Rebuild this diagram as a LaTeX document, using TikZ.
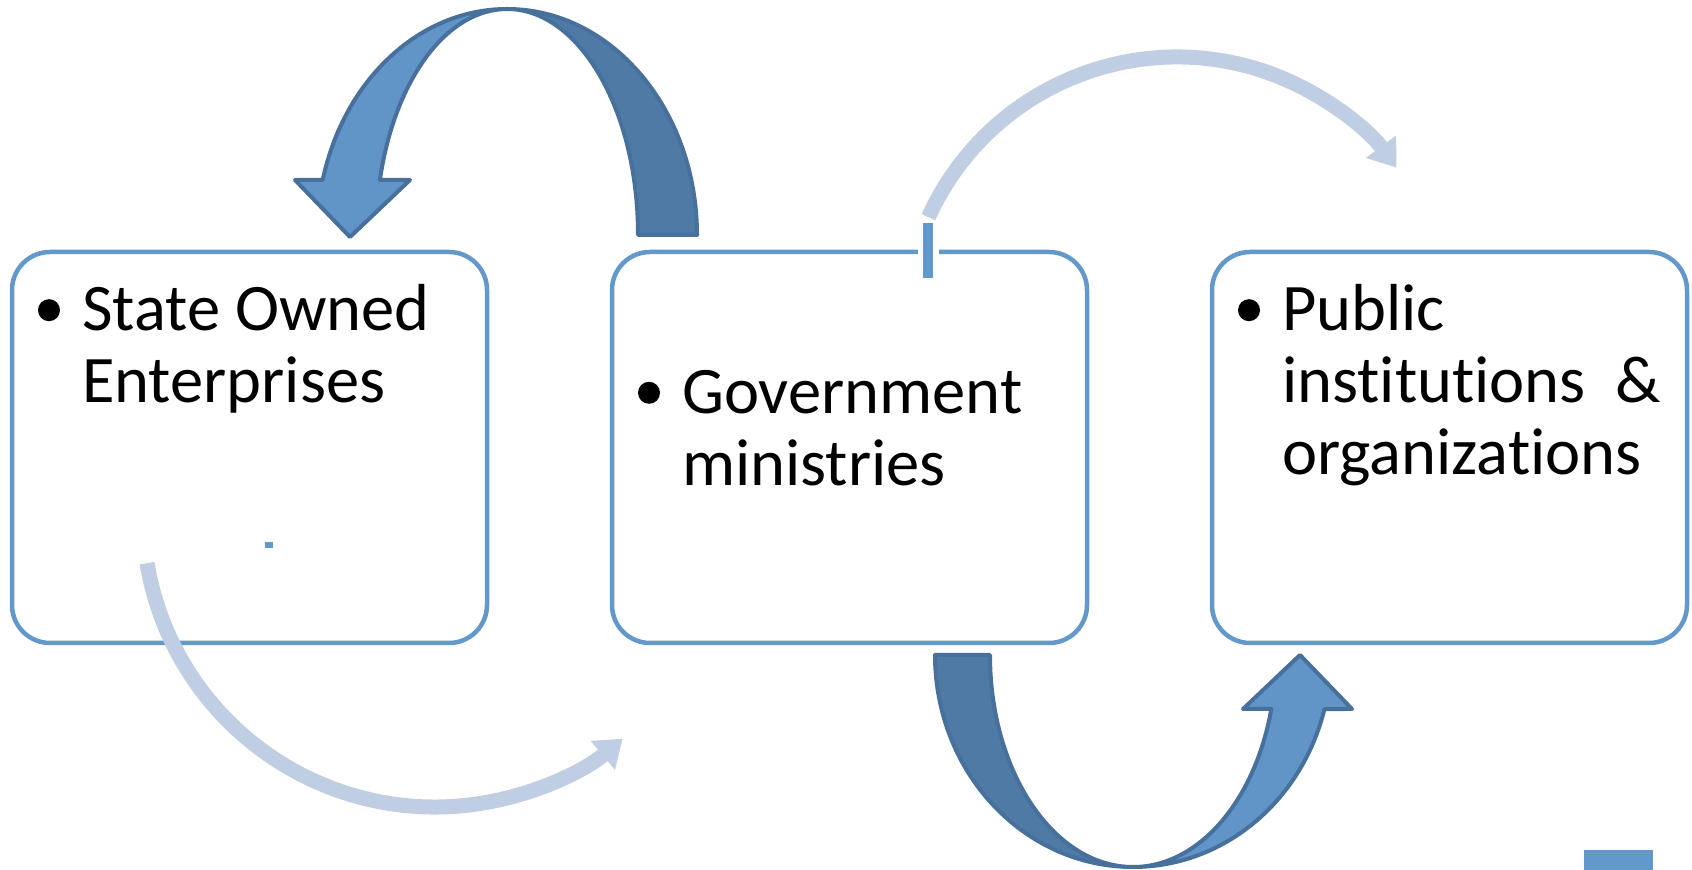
\documentclass[tikz,border=0pt]{standalone}
\usepackage{fontspec}
\setmainfont{Carlito}[Ligatures=NoCommon]
\usetikzlibrary{positioning,arrows.meta}
\definecolor{boxblue}{RGB}{99,152,203}
\definecolor{arrowlight}{RGB}{97,149,200}
\definecolor{arrowdark}{RGB}{79,122,166}
\definecolor{arrowedge}{RGB}{72,112,157}
\definecolor{paleblue}{RGB}{191,206,227}
\pgfmathsetmacro{\boxwidth}{475}
\pgfmathsetmacro{\boxheight}{391}
\pgfmathsetmacro{\boxgap}{125}
\pgfmathsetmacro{\textindent}{70}
\tikzset{
  box/.style={draw=boxblue, fill=white, line width=4.5pt, rounded corners=38pt,
    minimum width=\boxwidth pt, minimum height=\boxheight pt,
    inner sep=0pt, outer sep=0pt},
  itemtext/.style={font=\fontsize{66.5}{72}\selectfont, align=flush left,
    text width=440pt, inner sep=0pt, anchor=base west},
  bulletdot/.style={fill=black},
  bigarrow/.style={draw=arrowedge, line width=4pt, line join=round},
  palearrow/.style={draw=paleblue, line width=15pt,
    -{Triangle[width=36pt,length=26pt]}},
}

\begin{document}
\begin{tikzpicture}[x=1pt, y=1pt]
    \useasboundingbox (0,0) rectangle (1692,870);
    % define boxes
    \node[box] (soe) at (249.5,422.5) {};
    \node[box, right=\boxgap pt of soe] (gov) {};
    \node[box, right=\boxgap pt of gov] (pub) {};
    % centres of the curved arrows
    \coordinate (top_c) at (507,635);
    \coordinate (bot_c) at (1133,215);
    \coordinate (sweep_top) at (1177,540);
    \coordinate (sweep_bot) at (435,355);
    % draw big arrows
    % upper arrow, gov -> soe
    \draw[bigarrow, fill=arrowdark] ([shift={(0:190pt and 226pt)}]top_c)
        arc[start angle=0, end angle=90, x radius=190pt, y radius=226pt]
        arc[start angle=90, end angle=0, x radius=131pt, y radius=226pt] -- cycle;
    \draw[bigarrow, fill=arrowlight] ([shift={(90:190pt and 226pt)}]top_c)
        arc[start angle=90, end angle=165.9, x radius=190pt, y radius=226pt]
        -- (295,690) -- (350,633) -- (410,690) -- (379.9,690)
        arc[start angle=165.9, end angle=90, x radius=131pt, y radius=226pt] -- cycle;
    % lower arrow, gov -> pub
    \draw[bigarrow, fill=arrowdark] ([shift={(180:198pt and 212pt)}]bot_c)
        arc[start angle=180, end angle=270, x radius=198pt, y radius=212pt]
        arc[start angle=270, end angle=180, x radius=143pt, y radius=212pt] -- cycle;
    \draw[bigarrow, fill=arrowlight] ([shift={(270:198pt and 212pt)}]bot_c)
        arc[start angle=270, end angle=345.24, x radius=198pt, y radius=212pt]
        -- (1352,161) -- (1300,215) -- (1243,161) -- (1271.3,161)
        arc[start angle=345.24, end angle=270, x radius=143pt, y radius=212pt] -- cycle;
    % thin pale arrows
    \draw[palearrow] ([shift={(155.6:273pt)}]sweep_top)
        arc[start angle=155.6, end angle=36.5, radius=273pt];
    \draw[palearrow] ([shift={(189.5:292pt)}]sweep_bot)
        arc[start angle=189.5, end angle=310, radius=292pt];
    % stray marks
    \fill[white] (918,610) rectangle (939,626);
    \fill[boxblue] (923,592) rectangle (933,647);
    \fill[boxblue] (265,322) rectangle (273,328);
    \fill[boxblue] (1584,0) rectangle (1653,20);
    % add labels
    \node[itemtext] (soe_text) at ([shift={(\textindent pt,-78.7pt)}]soe.north west)
        {State Owned\\Enterprises};
    \node[itemtext] (gov_text) at ([shift={(\textindent pt,-161.3pt)}]gov.north west)
        {Government\\ministries};
    \node[itemtext] (pub_text) at ([shift={(\textindent pt,-78.7pt)}]pub.north west)
        {Public\\institutions\ \ \&\\organizations};
    \fill[bulletdot] ([shift={(-33pt,20.5pt)}]soe_text.base west) circle[radius=11pt];
    \fill[bulletdot] ([shift={(-33pt,20.5pt)}]gov_text.base west) circle[radius=11pt];
    \fill[bulletdot] ([shift={(-33pt,20.5pt)}]pub_text.base west) circle[radius=11pt];
\end{tikzpicture}
\end{document}
